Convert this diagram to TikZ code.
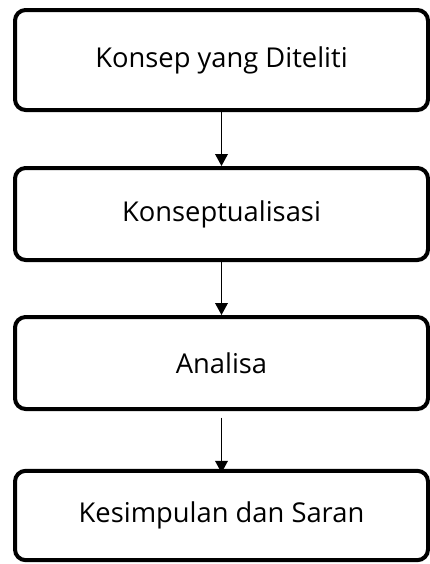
\documentclass[tikz,border=0pt]{standalone}
\usepackage{fontspec}
\setmainfont{Open Sans}
\usetikzlibrary{arrows.meta}

\begin{document}
\begin{tikzpicture}[x=0.75pt, y=-0.75pt, >={Triangle[width=9.5pt,length=9pt]},
  stage/.style={rectangle, draw=black, line width=3pt, rounded corners=8pt, minimum width=309.75pt, minimum height=69pt, align=center, font=\fontsize{20.5}{24}\selectfont},
  arrow/.style={->, line width=1.1pt}]
  \useasboundingbox (0,0) rectangle (429,564);
  \node[stage, minimum height=75pt] (konsep) at (221.5,60) {Konsep yang Diteliti};
  \node[stage] (konseptual) at (221.5,214) {Konseptualisasi};
  \node[stage] (analisa) at (221.5,363) {Analisa};
  \node[stage, minimum height=67pt] (simpulan) at (221.5,515.5) {Kesimpulan dan Saran};
  \draw[arrow] (konsep.south) -- (konseptual.north);
  \draw[arrow] (konseptual.south) -- (analisa.north);
  \draw[arrow] ([yshift=-5pt]analisa.south) -- ([yshift=-3pt]simpulan.north);
\end{tikzpicture}
\end{document}
